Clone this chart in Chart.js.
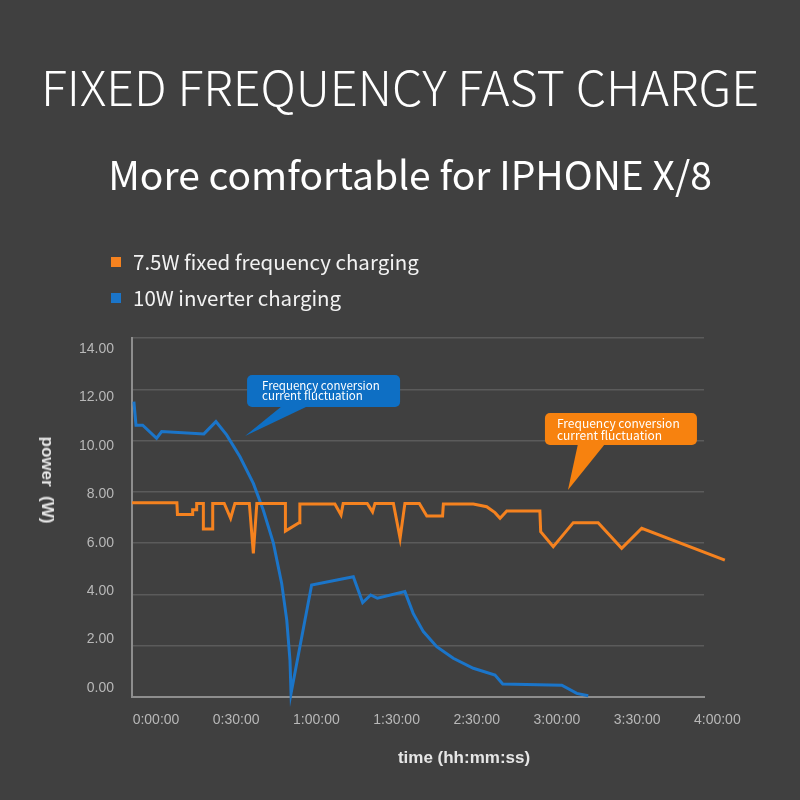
<!DOCTYPE html>
<html>
<head>
<meta charset="utf-8">
<script src="https://cdn.jsdelivr.net/npm/chart.js@4.4.1/dist/chart.umd.min.js"></script>
<style>
  html, body { margin: 0; padding: 0; background: #404040; }
  #wrap { position: relative; width: 800px; height: 800px; overflow: hidden; }
  #chart { position: absolute; left: 0; top: 0; }
  .txt { position: absolute; color: #fff; white-space: nowrap; }
  #title { left: 0; width: 800px; top: 50px; text-align: center; font: 300 48.5px "Noto Sans CJK SC", "Noto Sans", sans-serif; }
  #sub { left: 10px; width: 800px; top: 145px; text-align: center; font: 400 39px "Noto Sans CJK SC", "Noto Sans", sans-serif; }
  .leg { left: 111px; font: 400 20.5px "Noto Sans CJK SC", "Noto Sans", sans-serif; color: #f2f2f2; }
  .leg i { display: inline-block; width: 10px; height: 10px; margin-right: 12px; vertical-align: middle; position: relative; top: -2px; }
  #ytitle { left: 47px; top: 480px; transform: translate(-50%, -50%) rotate(90deg); font: 700 17px "Liberation Sans", Arial, sans-serif; color: #e6e6e6; }
  #xtitle { left: 464px; top: 758px; transform: translate(-50%, -50%); font: 700 17px "Liberation Sans", Arial, sans-serif; color: #e6e6e6; }
</style>
</head>
<body>
<div id="wrap">
  <canvas id="chart" width="800" height="800"></canvas>
  <div class="txt" id="title">FIXED FREQUENCY FAST CHARGE</div>
  <div class="txt" id="sub">More comfortable for IPHONE X/8</div>
  <div class="txt leg" style="top:246px"><i style="background:#f5821f"></i>7.5W fixed frequency charging</div>
  <div class="txt leg" style="top:282px"><i style="background:#1b75c9"></i>10W inverter charging</div>
  <div class="txt" id="ytitle">power&nbsp;&nbsp;(W)</div>
  <div class="txt" id="xtitle">time (hh:mm:ss)</div>
</div>
<script>
  // time in minutes, power in W
  const fixedTimes = [0, 16.8, 17.0, 22.7, 22.7, 24.2, 24.2, 26.7, 26.7, 30.2, 30.2, 34.5, 36.9, 38.5,
    43.9, 45.4, 46.7, 57.4, 57.4, 62.5, 62.8, 75.9, 78.2, 79.0, 88.0, 90.0, 90.9, 97.8, 100.3, 102.1,
    107.5, 110.3, 116.2, 116.5, 127.7, 132.7, 135.8, 137.7, 140.2, 152.6, 152.9, 157.6, 165.1, 174.4,
    183.2, 190.7, 221.8];
  const fixedPower = [7.58, 7.58, 7.12, 7.12, 7.3, 7.3, 7.55, 7.55, 6.55, 6.55, 7.55, 7.55, 6.97, 7.55,
    7.55, 5.6, 7.55, 7.55, 6.47, 6.8, 7.53, 7.53, 7.1, 7.55, 7.55, 7.22, 7.55, 7.55, 6.19, 7.55,
    7.55, 7.06, 7.06, 7.53, 7.53, 7.42, 7.19, 6.97, 7.25, 7.25, 6.45, 5.86, 6.8, 6.8,
    5.8, 6.58, 5.34];

  const inverterTimes = [0.7, 1.5, 4.0, 9.2, 11.1, 26.9, 31.4, 35.4, 40.4, 45.4, 49.1, 52.9, 56.0, 57.9,
    59.1, 59.5, 67.2, 82.8, 86.3, 89.3, 91.8, 102.1, 105.2, 109.0, 114.0, 120.2, 127.7, 135.8, 138.7,
    160.8, 166.4, 170.7];
  const inverterPower = [11.52, 10.6, 10.6, 10.09, 10.35, 10.26, 10.74, 10.22, 9.37, 8.33, 7.29, 6.0, 4.43, 3.0,
    1.44, 0.14, 4.37, 4.69, 3.68, 3.98, 3.85, 4.11, 3.26, 2.55, 1.96, 1.51, 1.12, 0.86, 0.51,
    0.46, 0.14, 0.05];

  const xTickValues = [0, 30, 60, 90, 120, 150, 180, 210];
  const xTickLabels = ["0:00:00", "0:30:00", "1:00:00", "1:30:00", "2:30:00", "3:00:00", "3:30:00", "4:00:00"];
  const yTickValues = [0, 2, 4, 6, 8, 10, 12, 14];

  const seriesNames = ["7.5W fixed frequency charging", "10W inverter charging"];
  const seriesColors = ["#f5821f", "#1b75c9"];

  const callouts = [
    { x: 42.3, y: 10.18, box: [2, -61, 155, -29], base: [37, 63], color: "#0e6fc4", lineGap: 10, text: ["Frequency conversion", "current fluctuation"], size: 11.5, pad: 15 },
    { x: 163.1, y: 8.07, box: [-23, -77, 129, -45], base: [10, 37], color: "#f7820f", lineGap: 12, text: ["Frequency conversion", "current fluctuation"], size: 12, pad: 12 }
  ];

  function pairs(xs, ys) {
    return xs.map((x, i) => ({ x: x, y: ys[i] }));
  }

  function roundRect(ctx, x, y, w, h, r) {
    ctx.beginPath();
    ctx.moveTo(x + r, y);
    ctx.arcTo(x + w, y, x + w, y + h, r);
    ctx.arcTo(x + w, y + h, x, y + h, r);
    ctx.arcTo(x, y + h, x, y, r);
    ctx.arcTo(x, y, x + w, y, r);
    ctx.closePath();
  }

  const calloutPlugin = {
    id: "callouts",
    afterDraw(chart) {
      const ctx = chart.ctx;
      const xs = chart.scales.x, ys = chart.scales.y;
      callouts.forEach(function (c) {
        const tx = xs.getPixelForValue(c.x), ty = ys.getPixelForValue(c.y);
        const bx = tx + c.box[0], by = ty + c.box[1], bw = c.box[2] - c.box[0], bh = c.box[3] - c.box[1];
        ctx.save();
        ctx.fillStyle = c.color;
        roundRect(ctx, bx, by, bw, bh, 5);
        ctx.fill();
        ctx.beginPath();
        ctx.moveTo(tx + c.base[0], by + bh - 1);
        ctx.lineTo(tx + c.base[1], by + bh - 1);
        ctx.lineTo(tx, ty);
        ctx.closePath();
        ctx.fill();
        ctx.fillStyle = "#ffffff";
        ctx.font = c.size + "px 'Noto Sans CJK SC', 'Noto Sans', sans-serif";
        ctx.textBaseline = "middle";
        const mid = by + bh / 2;
        ctx.fillText(c.text[0], bx + c.pad, mid - c.lineGap / 2);
        ctx.fillText(c.text[1], bx + c.pad, mid + c.lineGap / 2);
        ctx.restore();
      });
    }
  };

  const tickFont = { family: "'Liberation Sans', Arial, sans-serif", size: 14 };

  new Chart(document.getElementById("chart"), {
    type: "line",
    data: {
      datasets: [
        { label: seriesNames[0], data: pairs(fixedTimes, fixedPower), borderColor: seriesColors[0], borderWidth: 3, pointRadius: 0, tension: 0, clip: false },
        { label: seriesNames[1], data: pairs(inverterTimes, inverterPower), borderColor: seriesColors[1], borderWidth: 3, pointRadius: 0, tension: 0, clip: false }
      ]
    },
    options: {
      responsive: false,
      animation: false,
      events: [],
      layout: { padding: { left: 32, right: 96, top: 338, bottom: 63 } },
      plugins: { legend: { display: false }, tooltip: { enabled: false } },
      scales: {
        x: {
          type: "linear", min: 0, max: 214,
          afterBuildTicks(s) { s.ticks = xTickValues.map((v) => ({ value: v })); },
          afterFit(s) { s.height = 40; },
          grid: { display: false, drawTicks: false },
          border: { display: true, color: "#8e8e8e", width: 2 },
          ticks: {
            color: "#b8b8b8", font: tickFont, padding: 15, labelOffset: 24, maxRotation: 0, autoSkip: false,
            callback: (v, i) => xTickLabels[i]
          }
        },
        y: {
          type: "linear", min: 0, max: 14, position: "left",
          afterBuildTicks(s) { s.ticks = yTickValues.map((v) => ({ value: v })); },
          afterFit(s) { s.width = 0; },
          grid: { color: "#5b5b5b", lineWidth: 1.5, drawTicks: false },
          border: { display: true, color: "#8e8e8e", width: 2 },
          ticks: { display: false }
        },
        yl: {
          type: "linear", min: -0.372, max: 14.457, position: "left",
          afterBuildTicks(s) { s.ticks = yTickValues.map((v) => ({ value: v })); },
          afterFit(s) { s.width = 100; },
          grid: { display: false, drawTicks: false },
          border: { display: false },
          ticks: { color: "#b8b8b8", font: tickFont, padding: 18, callback: (v) => v.toFixed(2) }
        }
      }
    },
    plugins: [calloutPlugin]
  });
</script>
</body>
</html>
